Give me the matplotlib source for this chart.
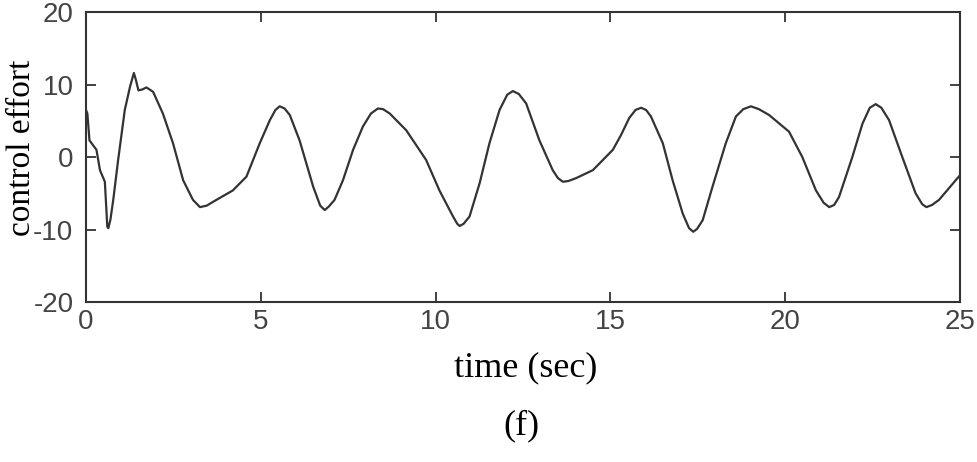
import matplotlib
matplotlib.use("Agg")
import matplotlib.pyplot as plt

plt.rcParams['axes.unicode_minus'] = False

# values
t = [0.0, 0.04, 0.1, 0.3, 0.4, 0.54, 0.61, 0.64, 0.7, 0.78, 0.92, 1.11, 1.26, 1.37,
     1.43, 1.5, 1.6, 1.73, 1.92, 2.2, 2.49, 2.78, 3.06, 3.26, 3.45, 3.73, 4.2,
     4.59, 4.97, 5.26, 5.42, 5.54, 5.68, 5.83, 6.11, 6.5, 6.7, 6.83, 6.95, 7.11,
     7.35, 7.64, 7.92, 8.15, 8.35, 8.5, 8.69, 9.16, 9.73, 10.11, 10.5, 10.62,
     10.69, 10.8, 10.97, 11.26, 11.54, 11.83, 12.05, 12.21, 12.38, 12.59, 12.97,
     13.35, 13.5, 13.64, 13.8, 14.02, 14.5, 15.07, 15.3, 15.54, 15.72, 15.88,
     16.02, 16.16, 16.5, 16.78, 17.07, 17.25, 17.37, 17.48, 17.64, 17.92, 18.3,
     18.59, 18.8, 19.02, 19.25, 19.54, 20.11, 20.49, 20.88, 21.1, 21.26, 21.4,
     21.54, 21.92, 22.21, 22.42, 22.59, 22.75, 22.97, 23.35, 23.73, 23.92, 24.04,
     24.2, 24.4, 25.0]
u = [6.5, 6.0, 2.3, 1.0, -1.8, -3.4, -9.6, -9.8, -8.6, -5.9, -0.4, 6.5, 9.7, 11.6,
     10.6, 9.2, 9.3, 9.6, 9.0, 6.0, 1.9, -3.2, -5.9, -6.9, -6.7, -5.9, -4.6,
     -2.7, 1.9, 5.1, 6.5, 7.0, 6.7, 5.8, 2.3, -4.1, -6.7, -7.3, -6.8, -5.9,
     -3.2, 1.0, 4.2, 6.0, 6.7, 6.6, 6.0, 3.7, -0.4, -4.6, -8.2, -9.2,
     -9.5, -9.2, -8.2, -3.6, 1.9, 6.5, 8.6, 9.1, 8.7, 7.4, 2.3,
     -1.8, -2.9, -3.4, -3.3, -2.9, -1.8, 1.0, 3.0, 5.4, 6.5, 6.8,
     6.5, 5.6, 1.9, -3.2, -7.8, -9.8, -10.3, -9.9, -8.7, -4.1, 1.9,
     5.6, 6.6, 7.0, 6.6, 5.8, 3.5, 0.0, -4.6, -6.3, -6.9, -6.6,
     -5.5, 0.0, 4.6, 6.8, 7.3, 6.8, 5.1, 0.0, -5.0, -6.5, -6.9,
     -6.6, -5.9, -2.5]

xticks = [0, 5, 10, 15, 20, 25]
yticks = [-20, -10, 0, 10, 20]

fig = plt.figure(figsize=(9.77, 4.62), dpi=100)
ax = fig.add_axes([0.088, 0.346, 0.8946, 0.628])
ax.plot(t, u, color='#333333', lw=1.6)

ax.set_xlim(0, 25)
ax.set_ylim(-20, 20)
ax.set_xticks(xticks)
ax.set_yticks(yticks)
ax.tick_params(direction='in', length=7, width=1.3, top=True, right=True,
               color='#333333', labelcolor='#444444', labelsize=20)
ax.tick_params(axis='x', pad=5)
ax.tick_params(axis='y', pad=9)
for lab in ax.get_xticklabels() + ax.get_yticklabels():
    lab.set_family('Liberation Sans')
for s in ax.spines.values():
    s.set_color('#333333')
    s.set_linewidth(1.5)

fig.text(0.538, 0.2035, 'time (sec)', family='Liberation Serif', fontsize=26,
         ha='center', va='center')
ax.set_ylabel('control effort', family='Liberation Serif', fontsize=24)
ax.yaxis.set_label_coords(-0.056, 0.531)
fig.text(0.534, 0.078, '(f)', family='Liberation Serif', fontsize=26,
         ha='center', va='center')

fig.savefig('out.png', dpi=100)
